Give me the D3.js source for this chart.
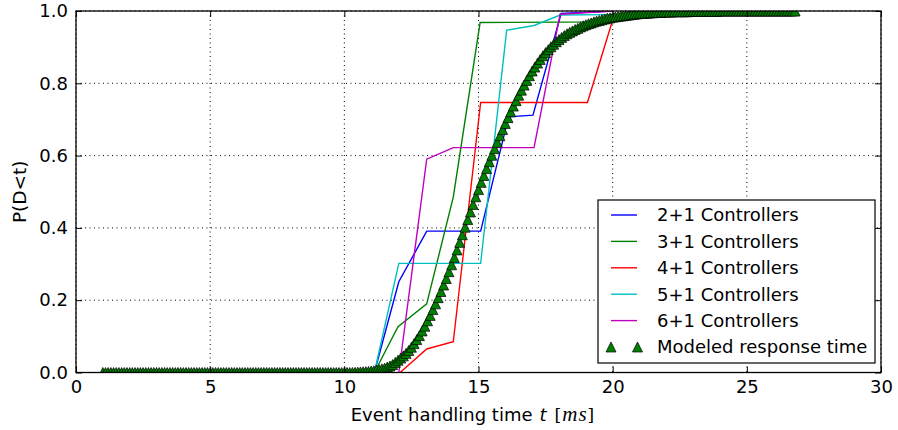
<!DOCTYPE html>
<html>
<head>
<meta charset="utf-8">
<script src="https://cdn.jsdelivr.net/npm/d3@7"></script>
<style>
  body { margin: 0; background: #fff; }
  text { font-family: 'DejaVu Sans', sans-serif; }
</style>
</head>
<body>
<svg width="898" height="430"></svg>
<script>
'use strict'

// measured CDFs, one pair of arrays per controller setup
const t21 = [11.12, 12.03, 13.07, 15.08, 16.12, 17.03, 18.08, 20.0]
const p21 = [0, 0.251, 0.391, 0.391, 0.707, 0.712, 0.993, 1.0]

const t31 = [11.12, 12.0, 13.07, 14.06, 15.06, 20.0, 21.0]
const p31 = [0, 0.127, 0.19, 0.485, 0.968, 0.97, 1.0]

const t41 = [12.08, 13.07, 14.06, 15.08, 19.06, 19.98, 21.0]
const p41 = [0, 0.065, 0.085, 0.747, 0.747, 0.97, 1.0]

const t51 = [11.12, 12.03, 15.08, 16.05, 17.07, 18.04, 20.0]
const p51 = [0, 0.302, 0.302, 0.947, 0.96, 0.989, 0.99]

const t61 = [12.03, 13.07, 14.06, 17.07, 18.04, 20.0]
const p61 = [0, 0.59, 0.622, 0.622, 0.991, 1.0]

const seriesNames = ['2+1 Controllers', '3+1 Controllers', '4+1 Controllers',
  '5+1 Controllers', '6+1 Controllers']
const modelName = 'Modeled response time'

// modeled curve, sampled every 0.1 ms from 1.0 ms
const modelStart = 1.0
const modelStep = 0.1
const modelP = [
  0, 0, 0, 0, 0, 0, 0, 0, 0, 0,
  0, 0, 0, 0, 0, 0, 0, 0, 0, 0,
  0, 0, 0, 0, 0, 0, 0, 0, 0, 0,
  0, 0, 0, 0, 0, 0, 0, 0, 0, 0,
  0, 0, 0, 0, 0, 0, 0, 0, 0, 0,
  0, 0, 0, 0, 0, 0, 0, 0, 0, 0,
  0, 0, 0, 0, 0, 0, 0, 0, 0, 0,
  0, 0, 0, 0, 0, 0, 0, 0, 0, 0,
  0, 0, 0, 0, 0, 0, 0, 0, 0, 0,
  0, 0, 0, 0.0002, 0.0005, 0.001, 0.0015, 0.002, 0.0025, 0.003,
  0.004, 0.005, 0.007, 0.008, 0.010, 0.012, 0.015, 0.018, 0.022, 0.028,
  0.034, 0.040, 0.046, 0.053, 0.061, 0.070, 0.080, 0.091, 0.102, 0.115,
  0.128, 0.143, 0.158, 0.174, 0.190, 0.207, 0.224, 0.242, 0.260, 0.279,
  0.298, 0.318, 0.339, 0.360, 0.381, 0.402, 0.423, 0.444, 0.465, 0.486,
  0.506, 0.526, 0.545, 0.564, 0.583, 0.601, 0.619, 0.637, 0.655, 0.672,
  0.689, 0.705, 0.721, 0.737, 0.752, 0.767, 0.781, 0.795, 0.808, 0.821,
  0.834, 0.845, 0.856, 0.866, 0.876, 0.885, 0.893, 0.901, 0.908, 0.915,
  0.921, 0.927, 0.932, 0.937, 0.941, 0.945, 0.949, 0.952, 0.956, 0.959,
  0.962, 0.965, 0.967, 0.970, 0.972, 0.974, 0.976, 0.978, 0.980, 0.981,
  0.983, 0.984, 0.985, 0.986, 0.987, 0.988, 0.989, 0.990, 0.991, 0.992,
  0.993, 0.993, 0.994, 0.994, 0.995, 0.995, 0.996, 0.996, 0.996, 0.997,
  0.997, 0.997, 0.997, 0.998, 0.998, 0.998, 0.998, 0.998, 0.998, 0.999,
  0.999, 0.999, 0.999, 0.999, 0.999, 0.999, 0.999, 0.999, 0.999, 0.999,
  1, 1, 1, 1, 1, 1, 1, 1, 1, 1,
  1, 1, 1, 1, 1, 1, 1, 1, 1, 1,
  1, 1, 1, 1, 1, 1, 1, 1, 1
]

const xTicks = [0, 5, 10, 15, 20, 25, 30]
const yTicks = [0, 0.2, 0.4, 0.6, 0.8, 1.0]

const colors = ['#0000ff', '#008000', '#ff0000', '#00bfbf', '#bf00bf']
const fontSize = 18

const margin = { top: 11, right: 17, bottom: 57.5, left: 76 }
const width = 898 - margin.left - margin.right,
  height = 430 - margin.top - margin.bottom

const svg = d3.select('svg')
const g = svg.append('g')
  .attr('transform', 'translate(' + margin.left + ',' + margin.top + ')')

const xScale = d3.scaleLinear().domain([0, 30]).range([0, width])
const yScale = d3.scaleLinear().domain([0, 1]).range([height, 0])

const series = [[t21, p21], [t31, p31], [t41, p41], [t51, p51], [t61, p61]]
  .map((s, k) => ({
    name: seriesNames[k],
    color: colors[k],
    points: s[0].map((t, i) => ({ t: t, p: s[1][i] }))
  }))

const model = modelP.map((p, i) => ({ t: modelStart + i * modelStep, p: p }))

svg.append('defs').append('clipPath').attr('id', 'plot-clip')
  .append('rect').attr('width', width).attr('height', height)

// dotted grid
const grid = g.append('g')
grid.selectAll('line.gx').data(xTicks).enter().append('line')
  .attr('x1', d => xScale(d)).attr('x2', d => xScale(d))
  .attr('y1', 0).attr('y2', height)
grid.selectAll('line.gy').data(yTicks).enter().append('line')
  .attr('x1', 0).attr('x2', width)
  .attr('y1', d => yScale(d)).attr('y2', d => yScale(d))
grid.selectAll('line')
  .attr('stroke', '#000').attr('stroke-width', 1).attr('stroke-dasharray', '1,3.5')

const plot = g.append('g').attr('clip-path', 'url(#plot-clip)')

const line = d3.line().x(d => xScale(d.t)).y(d => yScale(d.p))

plot.selectAll('path.cdf').data(series).enter().append('path')
  .attr('class', 'cdf')
  .attr('d', d => line(d.points))
  .attr('fill', 'none')
  .attr('stroke', d => d.color)
  .attr('stroke-width', 1.4)

const tri = 'M0,-5L5,5L-5,5Z'

plot.selectAll('path.model').data(model).enter().append('path')
  .attr('class', 'model')
  .attr('d', tri)
  .attr('transform', d => 'translate(' + xScale(d.t) + ',' + yScale(d.p) + ')')
  .attr('fill', '#008000')
  .attr('stroke', '#000')
  .attr('stroke-width', 0.7)

// axes, ticks pointing inward on all four sides
function styleAxis(sel) {
  sel.select('.domain').remove()
  sel.selectAll('.tick line').attr('stroke', '#000').attr('stroke-width', 1)
  sel.selectAll('.tick text')
    .style('font-family', "'DejaVu Sans', sans-serif")
    .style('font-size', fontSize + 'px')
    .attr('fill', '#000')
}

g.append('g').attr('transform', 'translate(0,' + height + ')')
  .call(d3.axisBottom(xScale).tickValues(xTicks).tickSizeInner(-6).tickSizeOuter(0)
    .tickPadding(8).tickFormat(d3.format('d')))
  .call(styleAxis)
g.append('g')
  .call(d3.axisTop(xScale).tickValues(xTicks).tickSizeInner(-6).tickSizeOuter(0)
    .tickFormat(''))
  .call(styleAxis)
g.append('g')
  .call(d3.axisLeft(yScale).tickValues(yTicks).tickSizeInner(-6).tickSizeOuter(0)
    .tickPadding(8).tickFormat(d3.format('.1f')))
  .call(styleAxis)
g.append('g').attr('transform', 'translate(' + width + ',0)')
  .call(d3.axisRight(yScale).tickValues(yTicks).tickSizeInner(-6).tickSizeOuter(0)
    .tickFormat(''))
  .call(styleAxis)

g.append('rect')
  .attr('width', width).attr('height', height)
  .attr('fill', 'none').attr('stroke', '#000').attr('stroke-width', 1.3)

// x label with the math part in a serif italic
const xLabel = svg.append('text')
  .attr('x', 472.5)
  .attr('y', 421)
  .attr('text-anchor', 'middle')
  .style('font-size', fontSize + 'px')
xLabel.append('tspan').text('Event handling time')
xLabel.append('tspan').attr('dx', 7).style('font-style', 'italic').text('t')
xLabel.append('tspan').attr('dx', 8)
  .style('font-family', "'DejaVu Serif', serif").style('font-size', '17px').text('[')
xLabel.append('tspan').attr('dx', 1)
  .style('font-family', "'Liberation Serif', serif").style('font-style', 'italic')
  .style('font-size', '21px').style('letter-spacing', '1px').text('ms')
xLabel.append('tspan')
  .style('font-family', "'DejaVu Serif', serif").style('font-size', '17px').text(']')

svg.append('text')
  .attr('transform', 'translate(26,' + (margin.top + height / 2) + ') rotate(-90)')
  .attr('text-anchor', 'middle')
  .style('font-size', '18.5px')
  .text('P(D<t)')

// legend
const legend = svg.append('g').attr('transform', 'translate(598,200)')
legend.append('rect')
  .attr('width', 277).attr('height', 163)
  .attr('fill', '#fff').attr('stroke', '#000').attr('stroke-width', 1.2)

const rowY = i => 15 + i * 26.4

const rows = legend.selectAll('g.row').data(series).enter().append('g')
  .attr('transform', (d, i) => 'translate(0,' + rowY(i) + ')')
rows.append('line')
  .attr('x1', 13).attr('x2', 39)
  .attr('stroke', d => d.color).attr('stroke-width', 1.4)
rows.append('text')
  .attr('x', 59).attr('dy', '0.36em')
  .style('font-size', fontSize + 'px')
  .text(d => d.name)

const modelRow = legend.append('g').attr('transform', 'translate(0,' + rowY(5) + ')')
modelRow.selectAll('path').data([13, 39.5]).enter().append('path')
  .attr('d', tri)
  .attr('transform', d => 'translate(' + d + ',0)')
  .attr('fill', '#008000').attr('stroke', '#000').attr('stroke-width', 0.7)
modelRow.append('text')
  .attr('x', 59).attr('dy', '0.36em')
  .style('font-size', fontSize + 'px')
  .text(modelName)
</script>
</body>
</html>
